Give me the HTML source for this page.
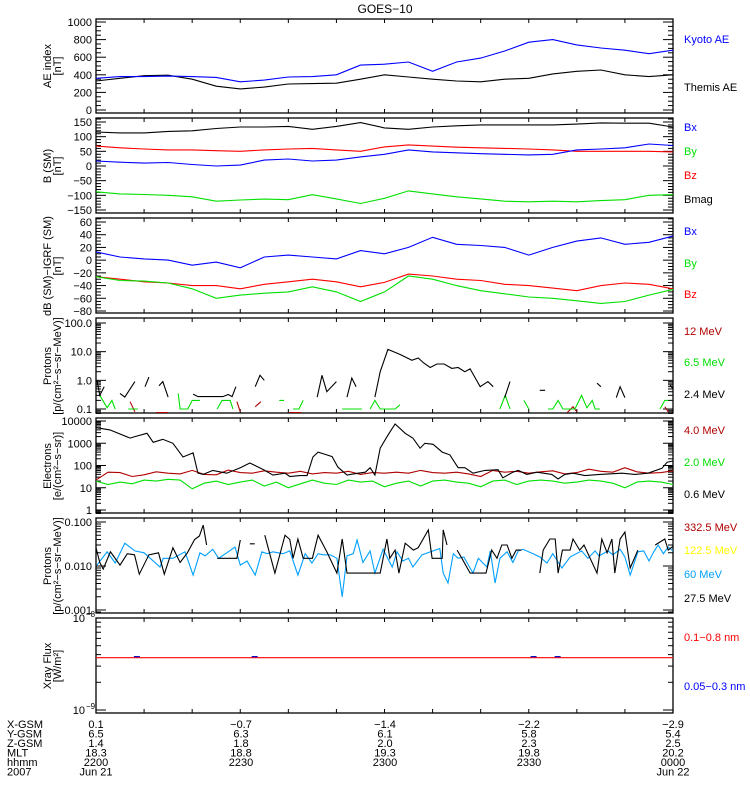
<!DOCTYPE html>
<html><head><meta charset="utf-8"><style>
html,body{margin:0;padding:0;background:#fff;}
svg{display:block;font-family:"Liberation Sans",sans-serif;}
</style></head><body>
<svg id="chart" width="750" height="800" viewBox="0 0 750 800" xmlns="http://www.w3.org/2000/svg">
<text x="385" y="13" font-size="12" text-anchor="middle">GOES−10</text>
</svg>
<script>
// ---- data (time in minutes after 22:00 UT, Jun 21 2007) ----
const tGrid5 = [0,5,10,15,20,25,30,35,40,45,50,55,60,65,70,75,80,85,90,95,100,105,110,115,120];
const kyotoAE = [360,380,380,385,380,370,320,340,375,380,400,510,520,545,440,545,590,670,770,800,740,705,680,640,680];
const themisAE = [330,360,390,395,350,270,240,260,295,300,305,350,400,375,350,330,320,350,360,410,440,455,400,380,400];
const bmag2 = [116,113,113,118,120,128,133,133,135,125,135,148,130,125,133,137,140,140,140,140,143,147,146,146,133];
const bx2 = [17,13,10,12,5,0,3,20,24,17,20,31,40,55,48,45,42,40,38,40,55,58,62,75,70];
const by2 = [-88,-95,-97,-100,-105,-120,-116,-113,-115,-98,-112,-128,-110,-85,-95,-105,-112,-120,-122,-120,-122,-118,-115,-100,-98];
const bz2 = [68,62,58,55,55,52,50,55,58,60,55,50,65,72,68,64,62,60,58,55,50,50,50,50,48];
const bx3 = [13,5,2,0,-8,-3,-12,5,8,5,2,15,10,20,36,25,23,20,8,20,30,35,25,28,38];
const by3 = [-26,-32,-33,-36,-45,-60,-55,-52,-50,-42,-50,-65,-50,-25,-30,-40,-48,-53,-58,-60,-64,-68,-65,-55,-46];
const bz3 = [-26,-30,-34,-36,-40,-40,-45,-38,-34,-30,-34,-42,-35,-22,-25,-30,-32,-38,-40,-44,-48,-40,-36,-38,-45];

const p24T = [0.2,0.8,1.7,null,5,6,8.1,null,10.2,11,null,13.1,13.9,15,null,20.2,21.2,26.4,27.5,28.3,29.1,null,33.1,34.1,35,null,46,47,48,50,null,52.2,53.2,54.1,null,58,59.1,60.7,63.2,65.7,67,68.2,69.5,70.9,72.4,74,75.3,76.7,77.8,79.9,81.5,82.6,null,85,86.1,null,92.3,93.4,null,104.2,105,null,108.2,109,110,null,119.4,120];
const p24V = [1.0,0.3,0.6,null,0.35,0.26,0.9,null,0.6,1.3,null,0.65,0.9,0.26,null,0.33,0.27,0.27,0.32,0.27,0.6,null,0.6,1.5,1.0,null,0.26,1.5,0.4,0.9,null,0.26,1.2,0.6,null,0.26,2,12,8,5,6,4,2.8,3.7,3.7,2.6,2.8,2,2.5,0.6,0.9,0.6,null,0.25,0.9,null,0.45,0.45,null,0.8,0.6,null,0.25,0.6,0.25,null,0.7,0.5];
const p65T = [0.8,2.3,3.3,4,null,6.7,8.7,null,17.1,17.5,19.1,20,21.6,null,25.2,26.2,27.9,28.5,null,38.1,39.1,null,41,42.2,43.1,null,51.2,55.3,null,57,58,59.1,62.2,63.2,null,84,85.1,86.1,null,89,90,null,94,95,96.1,97.1,99.6,101,102.1,103.2,103.8,104.8,null,117.3,118.3,119];
const p65V = [0.3,0.11,0.2,0.1,null,0.1,0.1,null,0.35,0.1,0.1,0.2,0.2,null,0.1,0.2,0.2,0.1,null,0.2,0.2,null,0.1,0.1,0.2,null,0.1,0.1,null,0.1,0.2,0.1,0.1,0.14,null,0.1,0.3,0.1,null,0.2,0.1,null,0.1,0.1,0.2,0.1,0.1,0.3,0.11,0.2,0.1,0.1,null,0.1,0.2,0.2];
const p12T = [7.1,8.1,null,12.5,15,null,29.3,30,null,33.1,34.3,null,40.2,42.7,null,98,99.2,100,null,118.3,119];
const p12V = [0.18,0.08,null,0.075,0.075,null,0.18,0.08,null,0.12,0.18,null,0.075,0.075,null,0.075,0.12,0.08,null,0.12,0.08];

const e06T = [0.1,2.9,7.1,8.1,10.6,11.9,13.9,16,18.1,20.2,21.2,22.3,24.3,27.2,30,32,35.1,36.8,39.3,40.3,42.4,43.9,45.1,46.2,48,49.1,50.3,52.2,54.5,56,57,58,59.1,60.7,62.2,64.3,65.9,67.4,68.4,70.1,72,73.6,75.3,76.7,78.4,80.9,83.6,84.6,86.7,87.8,89.6,91.7,94.8,96.1,97.5,99.2,101.7,104.8,109.4,112.1,114.8,117.7,118.8,120];
const e06V = [5000,4000,1700,2000,2800,1100,1500,1000,240,370,46,40,60,45,80,130,60,37,45,32,35,35,240,400,300,250,85,37,45,50,80,37,600,2300,7300,2800,1700,600,1000,900,400,300,80,80,45,60,65,28,50,60,40,50,40,25,40,45,35,40,45,40,45,75,140,160];
const tGrid25 = Array.from({length:49},(_, i)=>i*2.5);
const e40V = [22,50,48,32,38,52,45,42,60,40,38,62,48,45,58,50,45,55,42,48,45,55,40,48,45,50,45,60,48,45,50,42,32,60,50,55,45,52,58,42,48,68,55,50,80,52,45,48,58];
const e20V = [20,14,18,15,22,20,24,22,9,16,20,14,18,22,12,18,10,15,22,16,14,22,18,20,11,16,20,12,20,22,18,16,11,20,22,14,20,22,20,16,18,22,20,16,10,18,20,18,14];

const p275T = [0,0.8,1.5,3,5,6.5,8,9,11,13,14.2,16,17.5,19,20.5,21.5,22.3,23,null,25.2,29.3,30,null,32,33,null,35.1,37.2,39.3,40.3,41,42,43.1,45,46.2,48,50.1,51.2,52.2,59.1,60.5,61.1,62.2,63,64.3,66,67,69.1,69.9,72,72.2,73,null,75.1,76.1,77.8,81.1,82.3,83.4,84.4,85.5,86.5,87.4,88.5,null,92.3,93,94.4,95.5,96.1,97,98.6,99.2,100.6,101.5,104.2,105.2,106.3,107.3,107.9,109,110,111.1,112.7,null,116.3,118.3,119,120];
const p275V = [0.026,0.012,0.0085,0.021,0.0105,0.019,0.018,0.0065,0.018,0.02,0.0065,0.026,0.012,0.02,0.04,0.048,0.085,0.03,null,0.015,0.015,0.039,null,0.032,0.032,null,0.05,0.0069,0.05,0.04,0.015,0.041,0.015,0.015,0.05,0.021,0.0069,0.041,0.0069,0.0069,0.041,0.015,0.023,0.0069,0.033,0.023,0.026,0.066,0.015,0.015,0.066,0.03,null,0.023,0.015,0.0069,0.0069,0.023,0.015,0.03,0.03,0.015,0.023,0.023,null,0.0069,0.023,0.041,0.041,0.0069,0.023,0.023,0.041,0.023,0.03,0.0069,0.041,0.02,0.041,0.0069,0.041,0.059,0.009,0.023,null,0.03,0.041,0.023,0.028];
const p60T = [0.2,2.3,4,6,8.1,10,13.3,14,16,18.5,20.2,21.6,22.7,24.3,25.5,27.2,28.9,30,31.4,33.1,34.5,35.6,36.8,37.9,38.9,40.3,42,43.5,44.9,46.2,47.2,48.7,50.1,51.2,52.2,53.5,54.3,55.5,57,58,59.7,61.6,62.6,63.8,65,65.9,67.8,70.1,71.5,72.2,73.2,74.3,75.3,76.5,78.4,79.5,81.3,82,83,84,85.5,86.7,87.8,88.8,90.9,92.3,93.8,95,96.9,98.6,101,102.3,103.8,104.6,106.5,107.5,109,110,111.1,112.7,113.9,115,116,116.9,118,119,120];
const p60V = [0.0105,0.021,0.0117,0.033,0.022,0.02,0.0095,0.015,0.015,0.021,0.0062,0.02,0.017,0.024,0.015,0.02,0.027,0.0105,0.013,0.0062,0.021,0.019,0.021,0.02,0.019,0.022,0.0062,0.019,0.0117,0.019,0.018,0.018,0.015,0.002,0.017,0.019,0.039,0.012,0.022,0.0069,0.024,0.0095,0.021,0.013,0.015,0.0095,0.018,0.022,0.025,0.0069,0.0041,0.019,0.015,0.016,0.0069,0.015,0.0095,0.022,0.0041,0.015,0.021,0.012,0.022,0.024,0.019,0.016,0.0117,0.019,0.009,0.016,0.022,0.015,0.022,0.017,0.022,0.018,0.024,0.016,0.0062,0.021,0.022,0.013,0.021,0.03,0.019,0.027,0.022];
const xrayLongT = [0,120];
const xrayLongV = [3.7e-9,3.7e-9];
const xrayShortMarksT = [8.5,33,91,96];
const xrayShortMarksV = [3.8e-9,3.8e-9,3.8e-9,3.8e-9];

const xTickLabels = {X:['0.1','−0.7','−1.4','−2.2','−2.9'],Y:['6.5','6.3','6.1','5.8','5.4'],Z:['1.4','1.8','2.0','2.3','2.5'],MLT:['18.3','18.8','19.3','19.8','20.2'],hhmm:['2200','2230','2300','2330','0000']};

// ---- layout ----
const svg = document.getElementById('chart');
const NS = 'http://www.w3.org/2000/svg';
const X0 = 96, X1 = 673;
function xAt(t){ return X0 + t*(X1-X0)/120; }
const panels = [
 {top:19,bot:113,log:false,a:[0,110],b:[1000,22]},
 {top:118,bot:213,log:false,a:[150,122],b:[-150,210]},
 {top:218,bot:313,log:false,a:[60,222],b:[-80,311]},
 {top:318,bot:413,log:true,a:[2,323],b:[-1,409]},
 {top:418,bot:513,log:true,a:[4,421],b:[0,510]},
 {top:518,bot:613,log:true,a:[-1,522],b:[-3,610]},
 {top:618,bot:713,log:true,a:[-8,618],b:[-9,710]}
];
function yAt(p,v){
  const u = p.log ? Math.log10(v) : v;
  return p.a[1] + (u-p.a[0])*(p.b[1]-p.a[1])/(p.b[0]-p.a[0]);
}
function el(tag, attrs, parent){
  const e = document.createElementNS(NS, tag);
  for (const k in attrs) e.setAttribute(k, attrs[k]);
  (parent||svg).appendChild(e);
  return e;
}
function txt(x,y,s,opts,parent){
  const e = el('text', Object.assign({x:x,y:y,'font-size':11}, opts||{}), parent);
  e.textContent = s;
  return e;
}
const defs = el('defs',{});
panels.forEach((p,i)=>{
  const cp = el('clipPath',{id:'clip'+i},defs);
  el('rect',{x:X0,y:p.top,width:X1-X0,height:p.bot-p.top},cp);
});

function drawSeries(pi, T, V, color, name){
  const p = panels[pi];
  let d = '', pen = false;
  for (let i=0;i<V.length;i++){
    if (V[i]===null || T[i]===null){ pen=false; continue; }
    const x = xAt(T[i]).toFixed(1), y = yAt(p,V[i]).toFixed(1);
    d += (pen?'L':'M') + x + ' ' + y + ' ';
    pen = true;
  }
  const path = el('path',{d:d,fill:'none',stroke:color,'stroke-width':1.1,'clip-path':'url(#clip'+pi+')'});
  
  
}

// frames and ticks
panels.forEach((p,i)=>{
  const g = el('g',{});
  
  
  el('rect',{x:X0,y:p.top,width:X1-X0,height:p.bot-p.top,fill:'none',stroke:'#000','stroke-width':1.3},g);
  for (let t=10;t<120;t+=10){
    const x = xAt(t);
    el('line',{x1:x,y1:p.bot,x2:x,y2:p.bot-4,stroke:'#000'},g);
    el('line',{x1:x,y1:p.top,x2:x,y2:p.top+4,stroke:'#000'},g);
  }
  function ytick(y,len){
    if (y<p.top-0.5||y>p.bot+0.5) return;
    el('line',{x1:X0,y1:y,x2:X0+len,y2:y,stroke:'#000'},g);
    el('line',{x1:X1,y1:y,x2:X1-len,y2:y,stroke:'#000'},g);
  }
  if (!p.log){
    const step = [50,10,5][i], major=[200,50,20][i];
    for (let v=-200; v<=1100; v+=step){
      ytick(yAt(p,v), v%major===0?10:5);
    }
  } else {
    for (let e=-10;e<=5;e++){
      for (let m=1;m<10;m++){
        ytick(yAt(p,m*Math.pow(10,e)), m===1?10:5);
      }
    }
  }
});

// y tick labels
const yLabels = [
 [[0,'0'],[200,'200'],[400,'400'],[600,'600'],[800,'800'],[1000,'1000']],
 [[150,'150'],[100,'100'],[50,'50'],[0,'0'],[-50,'−50'],[-100,'−100'],[-150,'−150']],
 [[60,'60'],[40,'40'],[20,'20'],[0,'0'],[-20,'−20'],[-40,'−40'],[-60,'−60'],[-80,'−80']],
 [[100,'100.0'],[10,'10.0'],[1,'1.0'],[0.1,'0.1']],
 [[10000,'10000'],[1000,'1000'],[100,'100'],[10,'10'],[1,'1']],
 [[0.1,'0.100'],[0.01,'0.010'],[0.001,'0.001']]
];
yLabels.forEach((arr,i)=>{
  arr.forEach(([v,s])=>{
    const t = txt(92, yAt(panels[i],v)+4, s, {'text-anchor':'end'});
    
    
  });
});
[[1e-8,'−8'],[1e-9,'−9']].forEach(([v,e])=>{
  const y = yAt(panels[6],v)+4;
  const t = txt(85, y, '10', {'text-anchor':'end'});
  
  
  const s = txt(86, y-5, e, {'font-size':8});
  
  
});

// y-axis titles
const yTitles = [
 ['AE index','[nT]',66],
 ['B (SM)','[nT]',166],
 ['dB (SM)−IGRF (SM)','[nT]',266],
 ['Protons','[p/(cm²−s−sr−MeV)]',366],
 ['Electrons','[e/(cm²−s−sr)]',466],
 ['Protons','[p/(cm²−s−sr−MeV)]',566],
 ['Xray Flux','[W/m²]',666]
];
yTitles.forEach(([a,b,cy],i)=>{
  const t1 = txt(0,0,a,{'text-anchor':'middle',transform:'translate(51,'+cy+') rotate(-90)'});
  
  
  const t2 = txt(0,0,b,{'text-anchor':'middle',transform:'translate(61,'+cy+') rotate(-90)'});
  
  
});

// series
drawSeries(0,tGrid5,themisAE,'#000','themis-ae-line');
drawSeries(0,tGrid5,kyotoAE,'#0000ff','kyoto-ae-line');
drawSeries(1,tGrid5,bmag2,'#000','bmag-line');
drawSeries(1,tGrid5,bz2,'#ff0000','bz-line');
drawSeries(1,tGrid5,bx2,'#0000ff','bx-line');
drawSeries(1,tGrid5,by2,'#00e000','by-line');
drawSeries(2,tGrid5,bx3,'#0000ff','dbx-line');
drawSeries(2,tGrid5,bz3,'#ff0000','dbz-line');
drawSeries(2,tGrid5,by3,'#00e000','dby-line');
drawSeries(3,p12T,p12V,'#b00000','proton-12mev-line');
drawSeries(3,p65T,p65V,'#00e000','proton-6.5mev-line');
drawSeries(3,p24T,p24V,'#000','proton-2.4mev-line');
drawSeries(4,tGrid25,e20V,'#00e000','electron-2.0mev-line');
drawSeries(4,tGrid25,e40V,'#b00000','electron-4.0mev-line');
drawSeries(4,e06T,e06V,'#000','electron-0.6mev-line');
drawSeries(5,p60T,p60V,'#00a0ff','proton-60mev-line');
drawSeries(5,p275T,p275V,'#000','proton-27.5mev-line');
drawSeries(6,xrayLongT,xrayLongV,'#ff0000','xray-long-line');
xrayShortMarksT.forEach((t,i)=>{
  const y = yAt(panels[6],xrayShortMarksV[i]);
  const m = el('line',{x1:xAt(t)-3,y1:y,x2:xAt(t)+3,y2:y,stroke:'#0000c0','stroke-width':1.2});
  
  
});

// legends (right side)
const legends = [
 ['Kyoto AE','#0000ff',43],['Themis AE','#000',91],
 ['Bx','#0000ff',131],['By','#00e000',155],['Bz','#ff0000',179],['Bmag','#000',203],
 ['Bx','#0000ff',235],['By','#00e000',267],['Bz','#ff0000',298],
 ['12 MeV','#b00000',335],['6.5 MeV','#00e000',366],['2.4 MeV','#000',398],
 ['4.0 MeV','#b00000',434],['2.0 MeV','#00e000',466],['0.6 MeV','#000',498],
 ['332.5 MeV','#b00000',531],['122.5 MeV','#ffff00',554],['60 MeV','#00a0ff',578],['27.5 MeV','#000',602],
 ['0.1−0.8 nm','#ff0000',641],['0.05−0.3 nm','#0000ff',690]
];
legends.forEach(([s,c,y])=>{
  const t = txt(684,y,s,{fill:c});
  
  
});

// ephemeris table
const rows = [['X-GSM','X'],['Y-GSM','Y'],['Z-GSM','Z'],['MLT','MLT'],['hhmm','hhmm']];
const colX = [96,241,385,529,673];
rows.forEach(([lab,key],r)=>{
  const y = 728 + r*9.5;
  const t = txt(7,y,lab,{});
  
  
  xTickLabels[key].forEach((v,c)=>{
    const tv = txt(colX[c],y,v,{'text-anchor':'middle'});
    
    
  });
});
const yr = txt(7,775.5,'2007',{});


const d1 = txt(96,775.5,'Jun 21',{'text-anchor':'middle'});


const d2 = txt(673,775.5,'Jun 22',{'text-anchor':'middle'});


</script>
</body></html>
